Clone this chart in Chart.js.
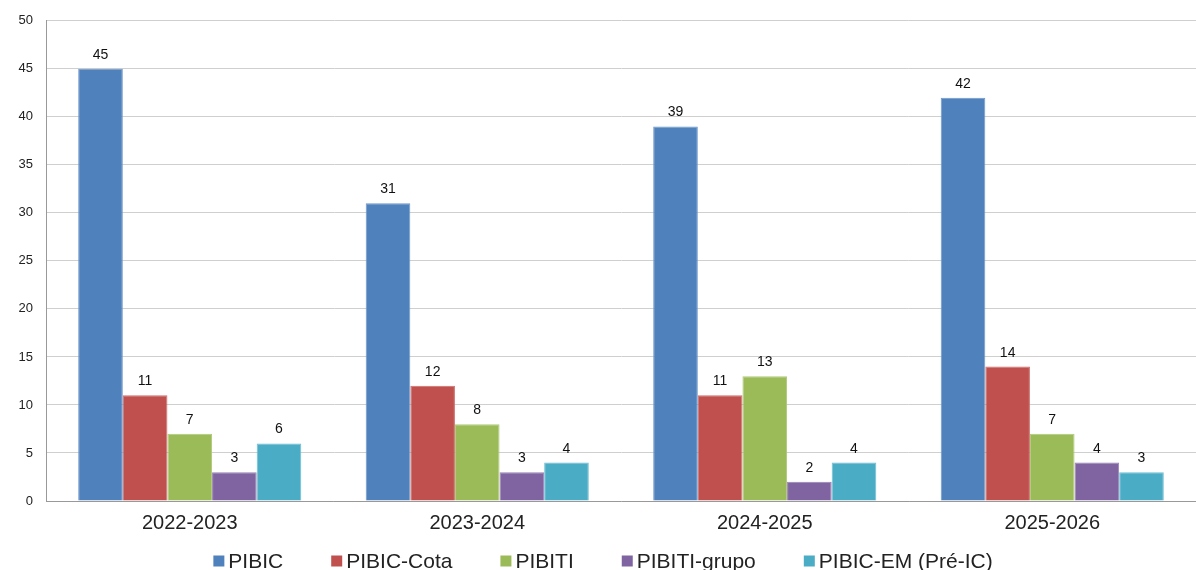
<!DOCTYPE html>
<html><head><meta charset="utf-8">
<script src="https://cdn.jsdelivr.net/npm/chart.js@4/dist/chart.umd.min.js"></script>
<style>html,body{margin:0;padding:0;background:#fff}#wrap{width:1196px;height:570px}</style>
</head><body><div id="wrap"><canvas id="c"></canvas></div>
<script>
const categories = ["2022-2023","2023-2024","2024-2025","2025-2026"];
const pibic = [45,31,39,42];
const pibicCota = [11,12,11,14];
const pibiti = [7,8,13,7];
const pibitiGrupo = [3,3,2,4];
const pibicEM = [6,4,4,3];
const yTicks = [0,5,10,15,20,25,30,35,40,45,50];

const font = "'Liberation Sans', Arial, sans-serif";
const labelPlugin = {
  id:'vals',
  afterDatasetsDraw(chart){
    const ctx = chart.ctx;
    ctx.save();
    ctx.fillStyle = '#111';
    ctx.font = '14px ' + font;
    ctx.textAlign = 'center';
    ctx.textBaseline = 'alphabetic';
    chart.data.datasets.forEach((ds,i)=>{
      chart.getDatasetMeta(i).data.forEach((el,j)=>{
        ctx.fillText(String(ds.data[j]), el.x, el.y - 10);
      });
    });
    ctx.restore();
  }
};
const legendPlugin = {
  id:'customLegend',
  afterDraw(chart){
    const ctx = chart.ctx;
    ctx.save();
    ctx.font = '21px ' + font;
    ctx.textBaseline = 'middle';
    const box = 11, gapBox = 4, gapItem = 48, cy = 561;
    const items = chart.data.datasets.map(d=>({t:d.label,c:d.backgroundColor,w:ctx.measureText(d.label).width}));
    let total = items.reduce((s,it)=>s+box+gapBox+it.w,0) + gapItem*(items.length-1);
    let x = 603 - total/2;
    items.forEach(it=>{
      ctx.fillStyle = it.c;
      ctx.fillRect(x, cy - box/2, box, box);
      ctx.fillStyle = '#222';
      ctx.fillText(it.t, x + box + gapBox, cy + 1);
      x += box + gapBox + it.w + gapItem;
    });
    ctx.restore();
  }
};
function ds(label,data,color,border){
  return {label,data,backgroundColor:color,borderColor:border,borderWidth:1,borderSkipped:'bottom'};
}
new Chart(document.getElementById('c'),{
  type:'bar',
  data:{labels:categories,datasets:[
    ds('PIBIC',pibic,'#4F81BD','#6d97c9'),
    ds('PIBIC-Cota',pibicCota,'#C0504D','#cc6e6b'),
    ds('PIBITI',pibiti,'#9BBB59','#afc97a'),
    ds('PIBITI-grupo',pibitiGrupo,'#8064A2','#9680b2'),
    ds('PIBIC-EM (Pré-IC)',pibicEM,'#4BACC6','#6ebdd2')
  ]},
  options:{
    responsive:true, maintainAspectRatio:false, animation:false,
    layout:{padding:{top:20,right:0,left:0,bottom:0}},
    datasets:{bar:{categoryPercentage:0.776,barPercentage:1}},
    plugins:{
      legend:{display:false},
      tooltip:{enabled:false}
    },
    scales:{
      x:{grid:{display:false,drawTicks:false},border:{color:'#999',width:1},
         afterFit(s){s.height=69;},
         ticks:{font:{family:font,size:20},color:'#222',padding:10}},
      y:{min:0,max:50,afterBuildTicks(s){s.ticks=yTicks.map(v=>({value:v}));},
         afterFit(s){s.width=46;},
         grid:{color:'#cfcfcf',drawTicks:false},border:{color:'#999',width:1},
         ticks:{font:{family:font,size:13},color:'#222',padding:13}}
    }
  },
  plugins:[labelPlugin,legendPlugin]
});
</script></body></html>
